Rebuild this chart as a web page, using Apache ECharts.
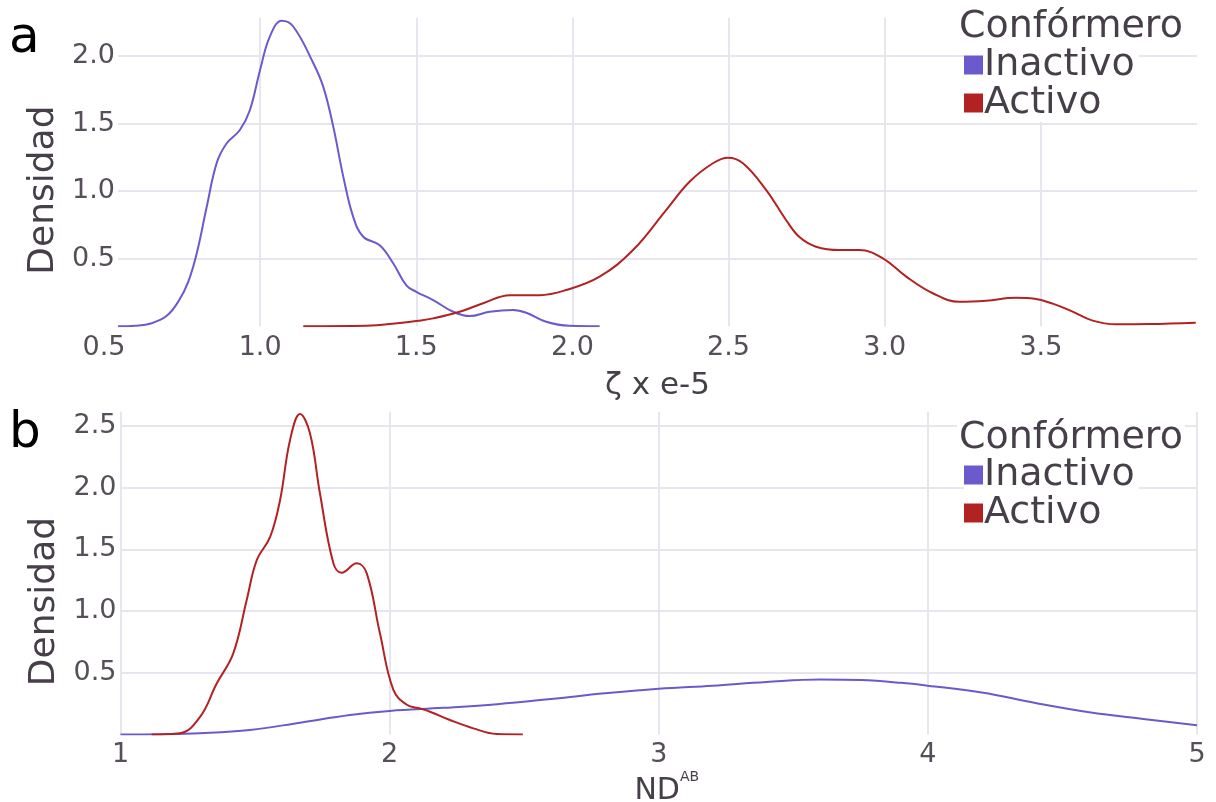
<!DOCTYPE html>
<html><head><meta charset="utf-8">
<script src="https://cdn.jsdelivr.net/npm/echarts@6/dist/echarts.min.js"></script>
<style>html,body{margin:0;padding:0;background:#fff}#c{width:1216px;height:802px}</style>
</head><body><div id="c"></div>
<script>
// Panel a: zeta x e-5
const zetaInactivo = [[0.545,0],[0.60,0.004],[0.65,0.02],[0.70,0.075],[0.74,0.19],[0.77,0.33],[0.797,0.54],[0.829,0.885],[0.861,1.21],[0.893,1.355],[0.935,1.453],[0.967,1.60],[1.0,1.90],[1.031,2.145],[1.069,2.263],[1.106,2.22],[1.17,1.95],[1.202,1.775],[1.234,1.48],[1.266,1.11],[1.298,0.81],[1.33,0.663],[1.383,0.60],[1.426,0.466],[1.469,0.30],[1.50,0.255],[1.554,0.194],[1.618,0.107],[1.671,0.075],[1.735,0.107],[1.81,0.12],[1.852,0.10],[1.916,0.033],[1.99,0.003],[2.087,0]];
const zetaActivo = [[1.138,0],[1.34,0.003],[1.447,0.024],[1.506,0.04],[1.554,0.058],[1.639,0.107],[1.714,0.17],[1.80,0.23],[1.895,0.23],[1.98,0.268],[2.087,0.367],[2.194,0.564],[2.30,0.86],[2.375,1.07],[2.45,1.207],[2.498,1.248],[2.546,1.207],[2.62,1.01],[2.684,0.787],[2.727,0.66],[2.78,0.589],[2.855,0.564],[2.919,0.564],[2.994,0.503],[3.069,0.367],[3.154,0.244],[3.239,0.181],[3.325,0.189],[3.42,0.211],[3.48,0.204],[3.54,0.165],[3.60,0.11],[3.666,0.041],[3.74,0.014],[3.847,0.016],[3.996,0.026]];
// Panel b: ND^AB
const ndInactivo = [[1.0,0],[1.15,0.002],[1.295,0.01],[1.481,0.036],[1.667,0.095],[1.853,0.157],[2.0,0.19],[2.2,0.215],[2.4,0.245],[2.6,0.287],[2.8,0.333],[3.0,0.37],[3.2,0.395],[3.4,0.425],[3.6,0.445],[3.75,0.44],[3.9,0.418],[4.0,0.395],[4.2,0.34],[4.4,0.255],[4.6,0.18],[4.8,0.125],[5.0,0.074]];
const ndActivo = [[1.116,0],[1.221,0.01],[1.295,0.14],[1.357,0.41],[1.419,0.657],[1.469,1.09],[1.506,1.41],[1.556,1.60],[1.593,1.90],[1.63,2.386],[1.667,2.596],[1.704,2.44],[1.741,1.954],[1.791,1.387],[1.822,1.31],[1.878,1.387],[1.915,1.305],[1.964,0.819],[2.014,0.36],[2.064,0.24],[2.113,0.21],[2.15,0.184],[2.224,0.117],[2.311,0.049],[2.398,0.003],[2.495,0]];
const seriesNames = ['Inactivo','Activo'];
const legendTitle = 'Confórmero';
const panelLabels = ['a','b'];

const FONT = 'DejaVu Sans';
const TICK = '#564e58';
const DARK = '#463e48';
const GRID = '#e7e5ed';
const PURPLE = '#6a5acd';
const RED = '#b22222';

const chart = echarts.init(document.getElementById('c'));
const ylab = {fontFamily: FONT, fontSize: 27, color: TICK, margin: 3, formatter: v => v.toFixed(1), showMinLabel: false, showMaxLabel: false};
const legendText = {fontFamily: FONT, fontSize: 38, color: DARK, padding: [0,0,0,-4]};
chart.setOption({
  animation: false,
  textStyle: {fontFamily: FONT},
  title: [
    {text: panelLabels[0], left: 9, top: 14, padding: 0, textStyle: {fontFamily: FONT, fontSize: 50, fontWeight: 'normal', color: '#000'}},
    {text: panelLabels[1], left: 9, top: 409, padding: 0, textStyle: {fontFamily: FONT, fontSize: 50, fontWeight: 'normal', color: '#000'}},
    {text: legendTitle, left: 957, top: 8, padding: [0,2,0,2], backgroundColor: '#fff', textStyle: {fontFamily: FONT, fontSize: 38, fontWeight: 'normal', color: DARK}},
    {text: legendTitle, left: 957, top: 419, padding: [0,2,0,2], backgroundColor: '#fff', textStyle: {fontFamily: FONT, fontSize: 38, fontWeight: 'normal', color: DARK}}
  ],
  legend: [
    {data: seriesNames, orient: 'vertical', left: 964, top: 46, padding: [0,4,0,0], itemGap: 0, icon: 'rect', itemWidth: 19, itemHeight: 19, backgroundColor: '#fff', selectedMode: false, textStyle: legendText},
    {data: seriesNames, orient: 'vertical', left: 964, top: 456, padding: [0,4,0,0], itemGap: 0, icon: 'rect', itemWidth: 19, itemHeight: 19, backgroundColor: '#fff', selectedMode: false, textStyle: legendText}
  ],
  grid: [
    {left: 118, right: 19, top: 18, height: 308.2, outerBoundsMode: 'none', containLabel: false},
    {left: 104, right: 19, top: 18, height: 308.2, outerBoundsMode: 'none', containLabel: false},
    {left: 120.5, right: 19, top: 411.7, height: 322.7, outerBoundsMode: 'none', containLabel: false}
  ],
  xAxis: [
    {gridIndex: 0, type: 'value', min: 0, max: 1, show: false},
    {gridIndex: 1, type: 'value', min: 0.5, max: 4.0, interval: 0.5,
      axisLine: {show: false}, axisTick: {show: false},
      axisLabel: {fontFamily: FONT, fontSize: 27, color: TICK, margin: 8, formatter: v => v.toFixed(1), showMinLabel: true, showMaxLabel: false},
      splitLine: {show: true, showMinLine: false, showMaxLine: false, lineStyle: {color: GRID, width: 2}},
      name: 'ζ x e-5', nameLocation: 'middle', nameGap: 44, nameTextStyle: {fontFamily: FONT, fontSize: 31, color: DARK, padding: [0,0,0,14]}},
    {gridIndex: 2, type: 'value', min: 1, max: 5, interval: 1,
      axisLine: {show: false}, axisTick: {show: false},
      axisLabel: {fontFamily: FONT, fontSize: 27, color: TICK, margin: 7},
      splitLine: {show: true, lineStyle: {color: GRID, width: 2}},
      name: '{n|ND}{s|AB}', nameLocation: 'middle', nameGap: 36,
      nameTextStyle: {padding: [0,0,0,16], rich: {n: {fontFamily: FONT, fontSize: 30, color: DARK, padding: [6,0,0,0]}, s: {fontFamily: FONT, fontSize: 14, color: DARK, verticalAlign: 'top', padding: [0,0,22,0]}}}}
  ],
  yAxis: [
    {gridIndex: 0, type: 'value', min: 0, max: 2.283, interval: 0.5,
      axisLine: {show: false}, axisTick: {show: false}, axisLabel: ylab,
      splitLine: {show: true, showMinLine: false, showMaxLine: false, lineStyle: {color: GRID, width: 2}},
      name: 'Densidad', nameLocation: 'middle', nameGap: 41, nameTextStyle: {fontFamily: FONT, fontSize: 36, color: DARK, padding: [0,36,0,0]}},
    {gridIndex: 1, type: 'value', min: 0, max: 2.283, show: false},
    {gridIndex: 2, type: 'value', min: 0, max: 2.615, interval: 0.5,
      axisLine: {show: false}, axisTick: {show: false}, axisLabel: Object.assign({}, ylab, {margin: 4}),
      splitLine: {show: true, showMinLine: false, showMaxLine: false, lineStyle: {color: GRID, width: 2}},
      name: 'Densidad', nameLocation: 'middle', nameGap: 44, nameTextStyle: {fontFamily: FONT, fontSize: 36, color: DARK, padding: [0,57,0,0]}}
  ],
  series: [
    {name: seriesNames[0], type: 'line', xAxisIndex: 1, yAxisIndex: 1, data: zetaInactivo, smooth: 0.4, showSymbol: false, color: PURPLE, lineStyle: {width: 2, color: PURPLE}},
    {name: seriesNames[1], type: 'line', xAxisIndex: 1, yAxisIndex: 1, data: zetaActivo, smooth: 0.4, showSymbol: false, color: RED, lineStyle: {width: 2, color: RED}},
    {name: seriesNames[0], type: 'line', xAxisIndex: 2, yAxisIndex: 2, data: ndInactivo, smooth: 0.4, showSymbol: false, color: PURPLE, lineStyle: {width: 2, color: PURPLE}},
    {name: seriesNames[1], type: 'line', xAxisIndex: 2, yAxisIndex: 2, data: ndActivo, smooth: 0.4, showSymbol: false, color: RED, lineStyle: {width: 2, color: RED}}
  ]
});
</script></body></html>
